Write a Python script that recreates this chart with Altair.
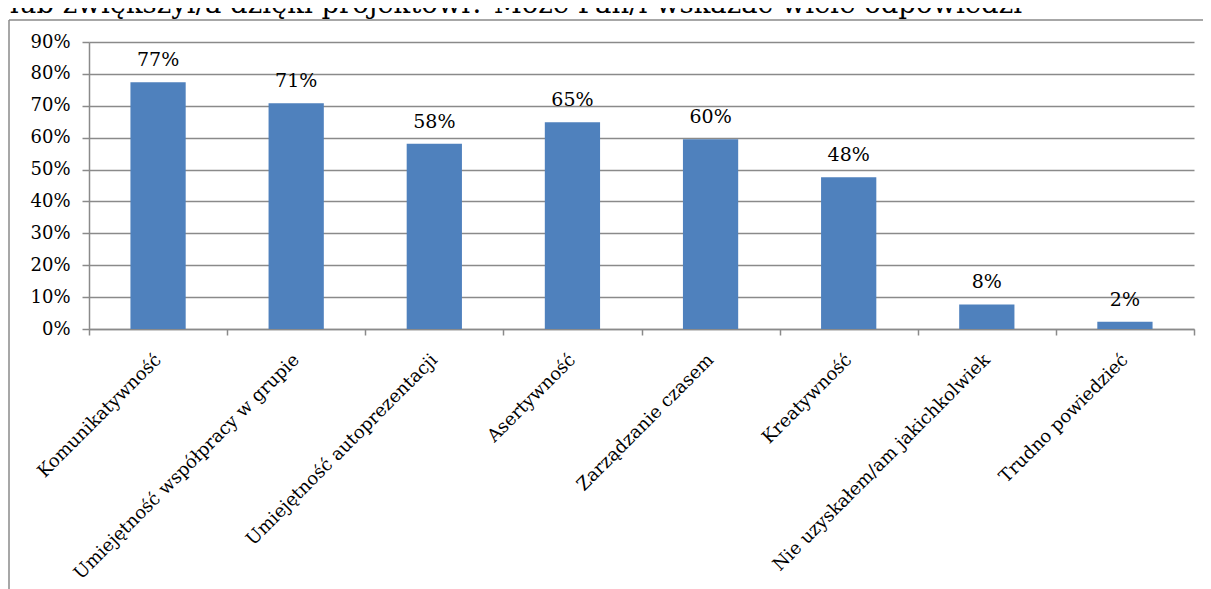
import altair as alt
import pandas as pd

categories = [
    "Komunikatywność",
    "Umiejętność współpracy w grupie",
    "Umiejętność autoprezentacji",
    "Asertywność",
    "Zarządzanie czasem",
    "Kreatywność",
    "Nie uzyskałem/am jakichkolwiek",
    "Trudno powiedzieć",
]
values = [0.774, 0.708, 0.581, 0.648, 0.595, 0.476, 0.077, 0.023]
labels = ["77%", "71%", "58%", "65%", "60%", "48%", "8%", "2%"]
y_ticks = [0, 0.1, 0.2, 0.3, 0.4, 0.5, 0.6, 0.7, 0.8, 0.9]
title_text = "lub zwiększył/a dzięki projektowi? Może Pan/i wskazać wiele odpowiedzi"

df = pd.DataFrame({"cat": categories, "val": values, "lab": labels})

FONT = "DejaVu Serif"
GRAY = "#8a8a8a"
BLUE = "#4F81BD"

x_enc = alt.X(
    "cat:N",
    sort=categories,
    title=None,
    scale=alt.Scale(paddingInner=0, paddingOuter=0),
    axis=alt.Axis(
        tickBand="extent",
        ticks=True,
        tickSize=6,
        tickColor=GRAY,
        tickWidth=1.5,
        domainColor=GRAY,
        domainWidth=1.5,
        labelAngle=-45,
        labelAlign="right",
        labelBaseline="middle",
        labelPadding=22,
        labelFont=FONT,
        labelFontSize=18,
        labelColor="black",
        labelLimit=0,
        labelOverlap=False,
        grid=False,
    ),
)
y_enc = alt.Y(
    "val:Q",
    title=None,
    scale=alt.Scale(domain=[0, 0.9], nice=False),
    axis=alt.Axis(
        values=y_ticks,
        format=".0%",
        grid=True,
        gridColor=GRAY,
        gridWidth=1.5,
        tickColor=GRAY,
        tickWidth=1.5,
        tickSize=7,
        domainColor=GRAY,
        domainWidth=1.5,
        labelPadding=12,
        labelFont=FONT,
        labelFontSize=18,
        labelColor="black",
        labelOverlap=False,
    ),
)

bars = alt.Chart(df).mark_bar(
    color=BLUE, width=alt.RelativeBandSize(0.4)
).encode(x=x_enc, y=y_enc)

texts = alt.Chart(df).mark_text(
    font=FONT, fontSize=19, color="black", baseline="alphabetic", dy=-16
).encode(x=x_enc, y=y_enc, text="lab:N")

title_df = pd.DataFrame({"t": [title_text]})
title = alt.Chart(title_df).mark_text(
    font=FONT, fontSize=27.5, color="black", align="left", baseline="alphabetic"
).encode(x=alt.value(-79), y=alt.value(-29), text="t:N")

frame_df = pd.DataFrame({"k": [0]})
frame_top = alt.Chart(frame_df).mark_rule(color=GRAY, strokeWidth=1.5).encode(
    x=alt.value(-80), x2=alt.value(3000), y=alt.value(-22)
)
frame_left = alt.Chart(frame_df).mark_rule(color=GRAY, strokeWidth=1.5).encode(
    x=alt.value(-80), y=alt.value(-22), y2=alt.value(3000)
)

chart = (
    alt.layer(bars, texts, frame_top, frame_left, title)
    .properties(
        width=1105,
        height=287,
        autosize=alt.AutoSizeParams(type="none"),
        padding={"left": 81, "top": 34, "right": 9, "bottom": 260},
    )
    .configure_view(stroke=None)
)

chart.save("out.html", embed_options={"renderer": "svg", "actions": False})
